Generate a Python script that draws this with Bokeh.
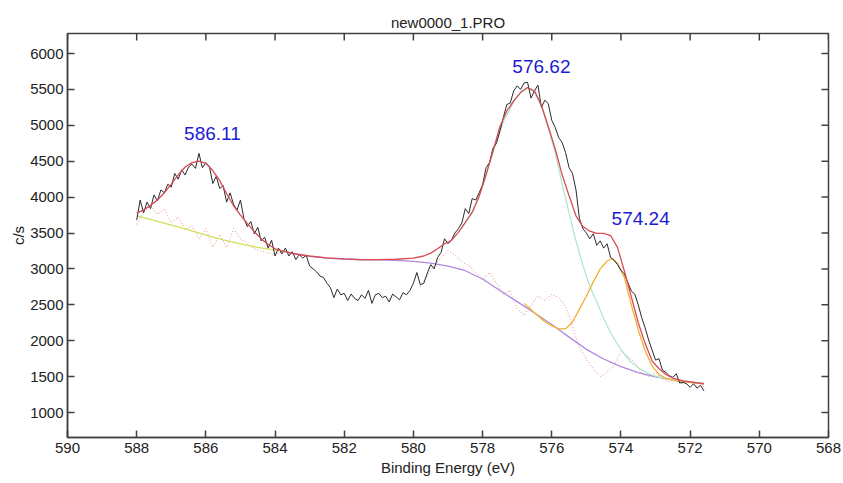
import numpy as np
from bokeh.plotting import figure
from bokeh.models import Range1d, FixedTicker
from bokeh.embed import file_html
from bokeh.resources import INLINE
from bokeh.core.properties import value

# ---------------- data ----------------
title_text = "new0000_1.PRO"
x_label = "Binding Energy (eV)"
y_label = "c/s"
x_ticks = [590, 588, 586, 584, 582, 580, 578, 576, 574, 572, 570, 568]
y_ticks = [1000, 1500, 2000, 2500, 3000, 3500, 4000, 4500, 5000, 5500, 6000]

# measured spectrum, 588.0 eV down to 571.6 eV in 0.1 eV steps
spectrum_start = 588.0
spectrum_step = 0.1
spectrum_counts = [
    3680, 3960, 3780, 3930, 3840, 4030, 3950, 4100, 4060, 4180,
    4140, 4330, 4250, 4380, 4310, 4420, 4460, 4400, 4610, 4410,
    4480, 4430, 4190, 4290, 4120, 4160, 3930, 4060, 3900, 3820,
    3960, 3700, 3590, 3660, 3490, 3580, 3390, 3440, 3290, 3400,
    3180, 3290, 3210, 3290, 3180, 3240, 3130, 3200,
    3150, 3190, 3040, 3000, 2960, 2900, 2880, 2800, 2740, 2600,
    2720, 2640, 2660, 2560, 2650, 2590, 2560, 2640, 2590, 2700,
    2520, 2640, 2660, 2600, 2620, 2540, 2650, 2610, 2570, 2670,
    2640, 2700, 2800, 2950, 2780, 2800, 2940, 3060, 3000, 3160,
    3230, 3420, 3350,
    3400, 3500, 3560, 3640, 3840, 3770, 3980, 3960, 4060, 4170,
    4410, 4480, 4680, 4750, 4920, 5110, 5290, 5310, 5480, 5550,
    5500, 5590, 5600, 5380, 5480, 5560, 5250, 5350, 5300, 5070,
    4970, 4830, 4760, 4620, 4410, 4330, 4100, 3700, 3560, 3500,
    3420, 3490, 3330, 3390, 3290, 3350, 3160, 3120, 3060, 2980,
    2930, 2810, 2690, 2650, 2500, 2320, 2180, 2010, 1870, 1730,
    1750, 1590, 1560, 1510, 1490, 1540, 1410, 1420, 1400, 1350,
    1400, 1340, 1380, 1300,
]
energy = np.round(spectrum_start - spectrum_step * np.arange(len(spectrum_counts)), 2)

# fitted envelope (sum of components)
envelope_x = [588.0, 587.8, 587.6, 587.4, 587.2, 587.0, 586.8, 586.6, 586.4, 586.2,
              586.0, 585.8, 585.6, 585.4, 585.2, 585.0, 584.8, 584.6, 584.4, 584.2,
              584.0, 583.8, 583.5, 583.0, 582.5, 582.0, 581.5, 581.0, 580.5, 580.0,
              579.7, 579.5, 579.3, 579.1, 578.9, 578.7, 578.5, 578.3, 578.1, 577.9,
              577.7, 577.5, 577.3, 577.1, 576.9, 576.7, 576.5, 576.3, 576.1, 575.9,
              575.7, 575.5, 575.3, 575.1, 574.9, 574.7, 574.5, 574.3, 574.1, 573.9,
              573.7, 573.5, 573.3, 573.1, 572.9, 572.7, 572.5, 572.2, 571.9, 571.6]
envelope_y = [3780, 3820, 3885, 3960, 4060, 4180, 4310, 4420, 4480, 4500,
              4470, 4370, 4230, 4050, 3880, 3750, 3630, 3520, 3420, 3340,
              3280, 3250, 3215, 3180, 3155, 3140, 3130, 3130, 3135, 3150,
              3180, 3220, 3280, 3350, 3400, 3510, 3650, 3790, 4010, 4310,
              4640, 4980, 5200, 5340, 5460, 5527, 5480, 5280, 4980, 4670,
              4310, 4020, 3740, 3590, 3525, 3495, 3495, 3465, 3300, 2970,
              2610, 2250, 1960, 1720, 1610, 1530, 1478, 1440, 1420, 1400]

# background under the 586 eV peak
bg_left_x = [588.0, 587.5, 587.0, 586.5, 586.0, 585.5, 585.0, 584.5, 584.0, 583.6]
bg_left_y = [3740, 3675, 3610, 3545, 3470, 3405, 3350, 3300, 3262, 3235]

# background under the 576 / 574 eV peaks
bg_right_x = [583.6, 583.0, 582.5, 582.0, 581.5, 581.0, 580.5, 580.0, 579.5, 579.0,
              578.5, 578.0, 577.5, 577.0, 576.5, 576.0, 575.5, 575.0, 574.5, 574.0,
              573.5, 573.0, 572.5, 572.0, 571.6]
bg_right_y = [3225, 3175, 3150, 3138, 3128, 3125, 3120, 3105, 3080, 3040,
              2975, 2860, 2700, 2545, 2385, 2225, 2050, 1880, 1745, 1640,
              1555, 1495, 1455, 1425, 1405]

# component at 576.62 eV
peak_576_x = [578.6, 578.3, 578.0, 577.7, 577.4, 577.1, 576.9, 576.7, 576.5, 576.3,
              576.1, 575.9, 575.7, 575.5, 575.3, 575.1, 574.9, 574.7, 574.5, 574.3,
              574.1, 573.9, 573.7, 573.4, 573.1, 572.8, 572.5, 572.2, 571.9, 571.6]
peak_576_y = [3560, 3780, 4150, 4620, 5050, 5330, 5450, 5515, 5460, 5270,
              4960, 4620, 4180, 3780, 3390, 3050, 2760, 2540, 2310, 2110,
              1950, 1815, 1700, 1590, 1520, 1480, 1455, 1430, 1415, 1400]

# component at 574.24 eV
peak_574_x = [576.8, 576.5, 576.2, 576.0, 575.8, 575.6, 575.4, 575.2, 575.0, 574.8,
              574.6, 574.4, 574.25, 574.1, 573.9, 573.7, 573.5, 573.3, 573.1, 572.9,
              572.7, 572.4, 572.0, 571.6]
peak_574_y = [2520, 2390, 2265, 2210, 2165, 2165, 2260, 2440, 2620, 2820,
              3000, 3110, 3145, 3080, 2880, 2500, 2150, 1860, 1650, 1530,
              1475, 1440, 1420, 1400]

# residual (+ background), dotted
resid_left_x = [588.0, 587.8, 587.6, 587.4, 587.2, 587.0, 586.8, 586.6, 586.4, 586.2,
                586.0, 585.8, 585.6, 585.4, 585.2, 585.0, 584.8, 584.6, 584.4, 584.2,
                584.0, 583.8]
resid_left_y = [3620, 3800, 3880, 3760, 3840, 3640, 3720, 3550, 3600, 3420,
                3560, 3300, 3480, 3300, 3560, 3420, 3360, 3280, 3250, 3220,
                3200, 3240]
resid_right_x = [579.8, 579.6, 579.4, 579.2, 579.0, 578.8, 578.6, 578.4, 578.2, 578.0,
                 577.8, 577.6, 577.4, 577.2, 577.0, 576.8, 576.6, 576.4, 576.2, 576.0,
                 575.8, 575.6, 575.4, 575.2, 575.0, 574.8, 574.6, 574.4, 574.2, 574.0,
                 573.8, 573.6, 573.4, 573.2, 573.0, 572.8, 572.6, 572.4, 572.2, 572.0,
                 571.8, 571.6]
resid_right_y = [2750, 2900, 3050, 3150, 3250, 3200, 3100, 3050, 2950, 2850,
                 2950, 2800, 2650, 2700, 2450, 2350, 2500, 2620, 2560, 2650,
                 2600, 2480, 2200, 1900, 1750, 1600, 1500, 1560, 1650, 1850,
                 1780, 1700, 1550, 1500, 1560, 1470, 1430, 1450, 1400, 1420,
                 1380, 1360]

peak_labels = ["586.11", "576.62", "574.24"]
label_x = [585.81, 576.30, 573.43]
label_y = [4886, 5820, 3702]

# ---------------- figure ----------------
FONT = "Liberation Sans"
AX = "#404040"
X_MIN, X_MAX = 590, 568
Y_MIN, Y_MAX = 652, 6279

p = figure(width=843, height=483, output_backend="svg", toolbar_location=None,
           x_range=Range1d(X_MIN, X_MAX), y_range=Range1d(Y_MIN, Y_MAX),
           min_border_left=67, min_border_right=15, min_border_top=33, min_border_bottom=46)
p.background_fill_color = "white"
p.border_fill_color = "white"
p.outline_line_color = AX
p.outline_line_width = 1.5
p.xgrid.visible = False
p.ygrid.visible = False

p.title.text = title_text
p.title.align = "center"
p.title.vertical_align = "middle"
p.title.text_font = FONT
p.title.text_font_size = "15px"
p.title.text_font_style = "normal"
p.title.text_color = "#222222"
p.title.standoff = 4

xa = p.xaxis[0]
ya = p.yaxis[0]
xa.ticker = FixedTicker(ticks=x_ticks)
ya.ticker = FixedTicker(ticks=y_ticks)
for ax in (xa, ya):
    ax.axis_line_color = AX
    ax.axis_line_width = 1.5
    ax.major_tick_line_color = AX
    ax.major_tick_line_width = 1.5
    ax.major_tick_in = 7
    ax.major_tick_out = 0
    ax.minor_tick_line_color = None
    ax.major_label_text_font = FONT
    ax.major_label_text_color = "#222222"
    ax.major_label_text_font_size = "15px"
    ax.axis_label_text_font = FONT
    ax.axis_label_text_font_size = "15px"
    ax.axis_label_text_font_style = "normal"
    ax.axis_label_text_color = "#222222"
xa.major_label_standoff = 5
ya.major_label_standoff = 4
xa.axis_label = x_label
ya.axis_label = y_label
xa.axis_label_standoff = 3
ya.axis_label_standoff = 0

# mirrored inward ticks on the top and right frame edges (clipped to the frame)
p.scatter(x=x_ticks, y=[Y_MAX] * len(x_ticks), marker="dash", size=14, angle=np.pi / 2,
          line_color=AX, line_width=1.5)
p.scatter(x=[X_MAX] * len(y_ticks), y=y_ticks, marker="dash", size=14,
          line_color=AX, line_width=1.5)

# residual dotted
p.line(resid_left_x, resid_left_y, line_color="#eca0a8", line_width=1.1, line_dash="1 2")
p.line(resid_right_x, resid_right_y, line_color="#eca0a8", line_width=1.1, line_dash="1 2")
# backgrounds
p.line(bg_left_x, bg_left_y, line_color="#d2e05a", line_width=1.3)
p.line(bg_right_x, bg_right_y, line_color="#b088dc", line_width=1.3)
# components
p.line(peak_576_x, peak_576_y, line_color="#a8e8c8", line_width=1.2)
p.line(peak_574_x, peak_574_y, line_color="#f0b030", line_width=1.3)
# spectrum
p.line(energy, spectrum_counts, line_color="#2a2a2a", line_width=1)
# envelope
p.line(envelope_x, envelope_y, line_color="#d84a55", line_width=1.3)

p.text(x=label_x, y=label_y, text=peak_labels, text_font=value(FONT),
       text_font_size="19px", text_color="#1c1cd4", text_align="center",
       text_baseline="middle")

open("out.html", "w").write(file_html(p, INLINE))
